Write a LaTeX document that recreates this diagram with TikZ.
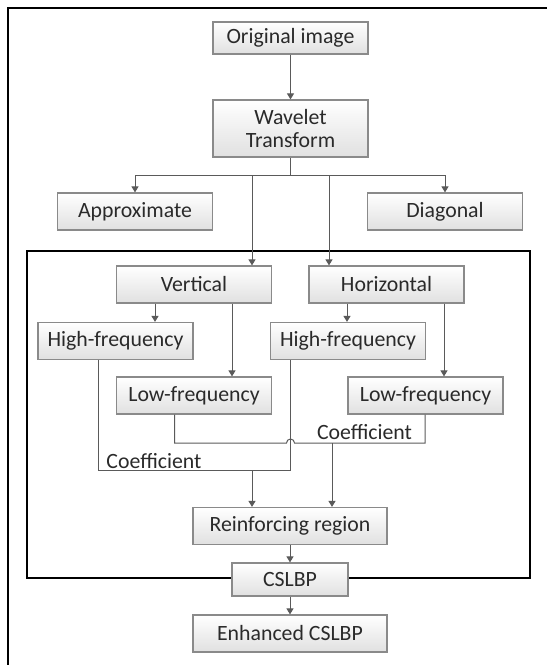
\documentclass[tikz,border=0pt]{standalone}
\usepackage{fontspec}
\setmainfont{Carlito}
\usetikzlibrary{arrows.meta}
\definecolor{boxline}{HTML}{8A8A8A}
\definecolor{conn}{HTML}{5A5A5A}
\definecolor{txt}{HTML}{2A2A2A}
\tikzset{
  box/.style={draw=boxline, line width=1.2pt, top color=white, bottom color=black!12,
    minimum width=155pt, minimum height=37pt, inner sep=0pt, text=txt,
    font=\fontsize{21.8}{25}\selectfont, align=center},
  coeflabel/.style={text=txt, font=\fontsize{21.8}{25}\selectfont, inner sep=0pt},
  conline/.style={draw=conn, line width=1pt},
  arr/.style={conline, -{Triangle[width=7pt,length=6pt]}},
  frame/.style={draw=black, line width=2pt}
}
\begin{document}
\begin{tikzpicture}[x=1pt,y=-1pt]
\useasboundingbox (0,0) rectangle (547,665);
% outer frame (top and left edges)
\draw[frame] (8,665) -- (8,7.5) -- (547,7.5);
% inner frame
\draw[frame] (27,251) rectangle (530,578);

\node[box, minimum height=32pt] (orig) at (290.5,38) {Original image};
\node[box, minimum height=57pt] (wav) at (290.5,128.5) {Wavelet\\[-2pt]Transform};
\node[box] (approx) at (135,211.5) {Approximate};
\node[box] (diag) at (445,211.5) {Diagonal};
\node[box] (vert) at (194,284.5) {Vertical};
\node[box] (horiz) at (386.5,284.5) {Horizontal};
\node[box] (hfl) at (115.5,341) {High-frequency};
\node[box] (hfr) at (348,341) {High-frequency};
\node[box] (lfl) at (194,395.5) {Low-frequency};
\node[box] (lfr) at (425.5,395.5) {Low-frequency};
\node[box, minimum width=194pt] (reinf) at (290,526) {Reinforcing region};
\node[box, minimum width=116pt, minimum height=33pt] (cslbp) at (290,579.5) {CSLBP};
\node[box, minimum width=194pt] (enh) at (290,633.5) {Enhanced CSLBP};

\node[coeflabel] (coef1) at (364.5,432) {Coefficient};
\node[coeflabel] (coef2) at (154,461) {Coefficient};

% top chain
\draw[arr] (orig) -- (wav);
\coordinate (br) at (290.5,175);
\draw[conline] (wav.south) -- (br);
\draw[arr] (br) -| (approx.north);
\draw[arr] (br) -| (diag.north);
\coordinate (bv) at (252,175);
\coordinate (bh) at (329,175);
\draw[arr] (bv) -- (bv |- vert.north);
\draw[arr] (bh) -- (bh |- horiz.north);

% vertical/horizontal to high/low frequency
\coordinate (v1) at (155,303);
\coordinate (v2) at (232,303);
\coordinate (h1) at (347,303);
\coordinate (h2) at (444,303);
\draw[arr] (v1 |- vert.south) -- (v1 |- hfl.north);
\draw[arr] (v2 |- vert.south) -- (v2 |- lfl.north);
\draw[arr] (h1 |- horiz.south) -- (h1 |- hfr.north);
\draw[arr] (h2 |- horiz.south) -- (h2 |- lfr.north);

% high-frequency coefficient bracket
\coordinate (a1) at (98,470);
\coordinate (a2) at (290.5,470);
\coordinate (a3) at (252,470);
\draw[conline] (a1 |- hfl.south) -- (a1) -- (a2) -- (a2 |- hfr.south);
\draw[arr] (a3) -- (a3 |- reinf.north);

% low-frequency coefficient bracket (with hop)
\coordinate (b1) at (174.5,443);
\coordinate (b2) at (425,443);
\coordinate (b3) at (332,443);
\draw[conline] (b1 |- lfl.south) -- (b1) -- (286.5,443) arc (180:360:4) -- (b2) -- (b2 |- lfr.south);
\draw[arr] (b3) -- (b3 |- reinf.north);

% bottom chain
\draw[arr] (reinf) -- (cslbp);
\draw[arr] (cslbp) -- (enh);
\end{tikzpicture}
\end{document}
